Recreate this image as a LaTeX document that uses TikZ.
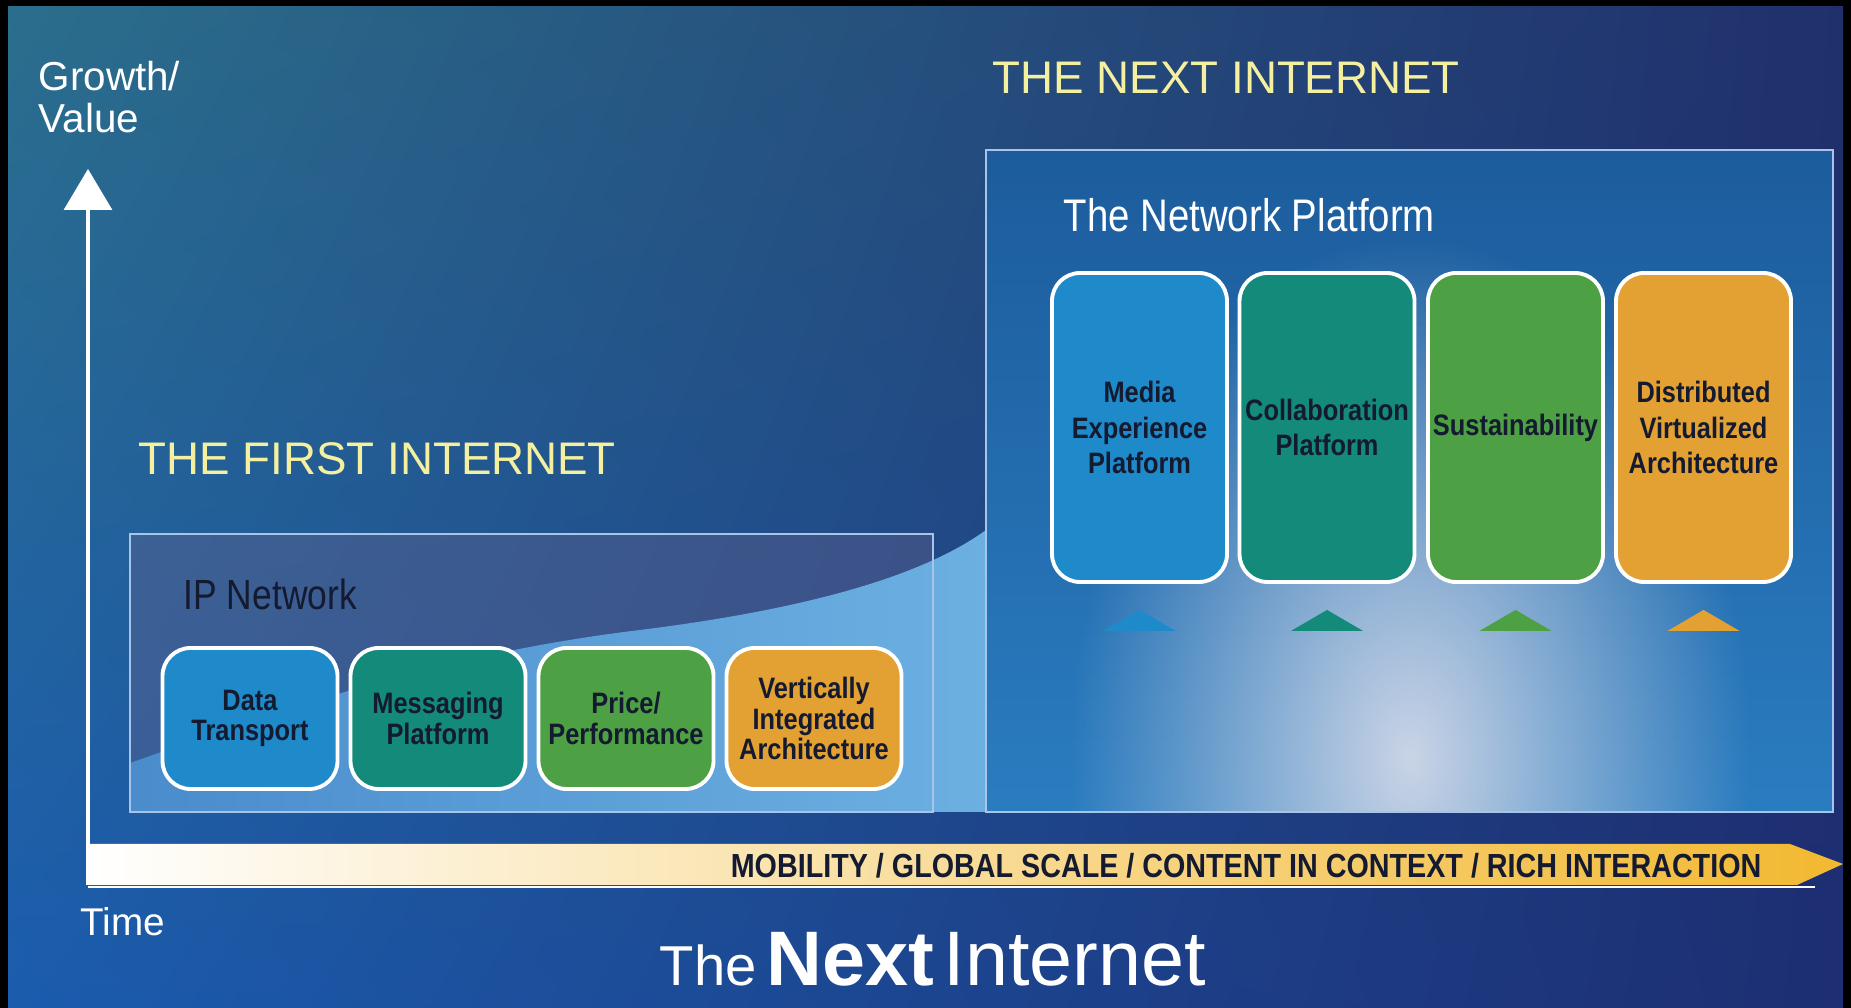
\documentclass[tikz,border=0pt]{standalone}
\usepackage{fontspec}
\setmainfont{Liberation Sans}
\newfontfamily\narrowfont[FakeStretch=0.84]{Liberation Sans}
\newfontfamily\boxfont[FakeStretch=0.86]{Liberation Sans}
\usetikzlibrary{positioning,arrows.meta,fadings,shadings}
\tikzfading[name=glowfade, inner color=transparent!0, outer color=transparent!100]

\definecolor{bgTL}{HTML}{2B6E8C}
\definecolor{bgTR}{HTML}{20306C}
\definecolor{bgBL}{HTML}{1B5CAE}
\definecolor{bgBR}{HTML}{1D2E72}
\definecolor{slate}{HTML}{6E6288}
\definecolor{waveL}{HTML}{4A8CCC}
\definecolor{waveR}{HTML}{6CB0E2}
\definecolor{panelTop}{HTML}{1C5C9C}
\definecolor{panelBot}{HTML}{2A7CC0}
\definecolor{glow}{HTML}{CAD4E6}
\definecolor{frame}{HTML}{A8C4E8}
\definecolor{cblue}{HTML}{1E8ACA}
\definecolor{cteal}{HTML}{138A7A}
\definecolor{cgreen}{HTML}{4DA043}
\definecolor{corange}{HTML}{E3A133}
\definecolor{boxtext}{HTML}{141A30}
\definecolor{headline}{HTML}{F4F0A0}
\definecolor{barlight}{HTML}{F3CE76}
\definecolor{bargold}{HTML}{F2B830}

\begin{document}
\begin{tikzpicture}
\tikzset{
  smallbox/.style={draw=white, line width=1.1pt, rounded corners=0.28cm, minimum width=1.75cm, minimum height=1.41cm, inner sep=1pt, align=center, text=boxtext, font=\boxfont\bfseries\fontsize{8.4}{8.7}\selectfont},
  tallbox/.style={smallbox, minimum height=3.09cm, font=\boxfont\bfseries\fontsize{8.4}{10.2}\selectfont},
  panel/.style={draw=frame, line width=0.5pt},
  heading/.style={text=headline, font=\fontsize{13}{15}\selectfont, inner sep=0pt},
  whitelabel/.style={text=white, inner sep=0pt}
}
\useasboundingbox (0,0) rectangle (18.51,10.08);
\fill[black] (0,0) rectangle (18.51,10.08);
\shade[upper left=bgTL, upper right=bgTR, lower left=bgBL, lower right=bgBR] (0.08,0) rectangle (18.43,10.01);
% first internet panel and wave
\fill[slate, opacity=0.35] (1.30,1.96) rectangle (9.33,4.74);
\shade[left color=waveL, right color=waveR] (1.30,1.96) -- (1.30,2.45)
  .. controls (3.0,3.05) and (4.5,3.55) .. (6.4,3.78)
  .. controls (8.0,3.98) and (9.2,4.30) .. (9.86,4.78) -- (9.86,1.96) -- cycle;
\draw[panel] (1.30,1.96) rectangle (9.33,4.74);
% next internet panel
\shade[top color=panelTop, bottom color=panelBot] (9.86,1.96) rectangle (18.33,8.58);
\begin{scope}
  \clip (9.86,1.96) rectangle (18.33,8.58);
  \fill[glow, path fading=glowfade] (14.1,2.5) ellipse (3.4 and 5.2);
\end{scope}
\draw[panel] (9.86,1.96) rectangle (18.33,8.58);
% axes
\coordinate (origin) at (0.88,1.23);
\coordinate (ytop) at (0.88,8.39);
\coordinate (xend) at (18.15,1.21);
\shade[left color=white, middle color=barlight, right color=bargold] (0.88,1.64) -- (17.90,1.64) -- (18.43,1.44) -- (17.97,1.23) -- (0.88,1.23) -- cycle;
\draw[white, line width=0.7pt] (origin|-xend) -- (xend);
\draw[white, line width=0.9pt, -{Triangle[width=0.48cm,length=0.41cm]}] (origin) -- (ytop);
\node[anchor=base east, inner sep=0pt, text=boxtext, font=\boxfont\bfseries\fontsize{9.5}{11}\selectfont] (trends) at (17.62,1.30) {MOBILITY / GLOBAL SCALE / CONTENT IN CONTEXT / RICH INTERACTION};
\node[whitelabel, anchor=north west, align=left, font=\fontsize{11.5}{11.7}\selectfont] (yaxis) at (0.38,9.47) {Growth/\\Value};
\node[whitelabel, anchor=base west, font=\fontsize{11}{13}\selectfont] (xaxis) at (0.80,0.72) {Time};
% headings
\node[heading, anchor=base west] (nexthead) at (9.92,9.14) {THE NEXT INTERNET};
\node[heading, anchor=base west] (firsthead) at (1.38,5.33) {THE FIRST INTERNET};
\node[whitelabel, anchor=base west, font=\narrowfont\fontsize{13}{15}\selectfont] (netplat) at (10.63,7.76) {The Network Platform};
\node[anchor=base west, inner sep=0pt, text=boxtext, font=\narrowfont\fontsize{12}{14}\selectfont] (ipnet) at (1.83,3.98) {IP Network};
% first internet boxes
\node[smallbox, fill=cblue] (data) at (2.50,2.895) {Data\\Transport};
\node[smallbox, fill=cteal] (msg) at (4.38,2.895) {Messaging\\Platform};
\node[smallbox, fill=cgreen] (price) at (6.26,2.895) {Price/\\Performance};
\node[smallbox, fill=corange] (vertical) at (8.14,2.895) {Vertically\\Integrated\\Architecture};
% network platform boxes
\node[tallbox, fill=cblue] (media) at (11.395,5.805) {Media\\Experience\\Platform};
\node[tallbox, fill=cteal] (collab) at (13.27,5.805) {Collaboration\\Platform};
\node[tallbox, fill=cgreen] (sustain) at (15.155,5.805) {Sustainability};
\node[tallbox, fill=corange] (distrib) at (17.035,5.805) {Distributed\\Virtualized\\Architecture};
\foreach \n/\c in {media/cblue, collab/cteal, sustain/cgreen, distrib/corange}
  \fill[\c] ([yshift=-0.47cm]\n.south) ++(-0.36,0) -- ++(0.72,0) -- ++(-0.36,0.21) -- cycle;
% title
\node[whitelabel, anchor=base west] (title) at (6.59,0.22) {{\fontsize{16}{18}\selectfont The} {\fontsize{22}{24}\selectfont\bfseries Next} {\fontsize{22}{24}\selectfont Internet}};
\end{tikzpicture}
\end{document}
